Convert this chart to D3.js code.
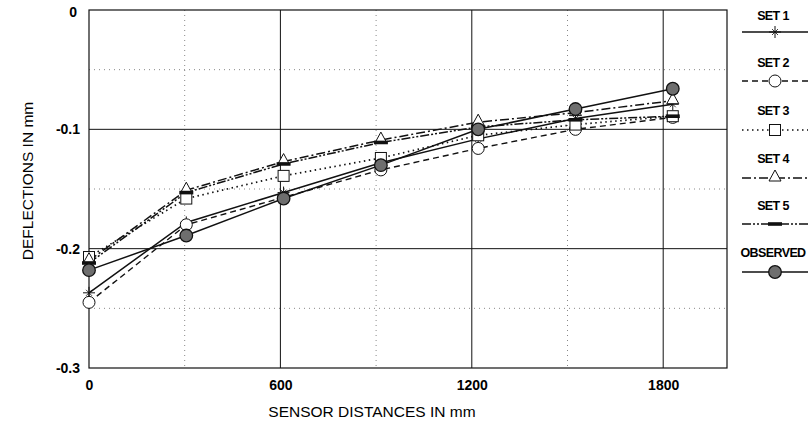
<!DOCTYPE html>
<html>
<head>
<meta charset="utf-8">
<script src="https://cdn.jsdelivr.net/npm/d3@7"></script>
<style>
  body { margin: 0; background: #fff; }
  text { font-family: "Liberation Sans", Arial, sans-serif; fill: #000; }
  .title_text { font-size: 15.5px; }
  .legend_text { font-size: 12.5px; font-weight: bold; letter-spacing: -0.6px; }
</style>
</head>
<body>
<div id="chart"></div>
<script>
var w = 808,
    h = 425,
    margin = {left: 89, right: 81, top: 10, bottom: 57},

    // sensor positions (mm) and deflections (mm)
    distances = [0, 305, 610, 915, 1220, 1525, 1830],
    set1 = [-0.237, -0.178, -0.153, -0.128, -0.108, -0.091, -0.079],
    set2 = [-0.245, -0.180, -0.157, -0.134, -0.116, -0.100, -0.090],
    set3 = [-0.207, -0.158, -0.139, -0.124, -0.105, -0.096, -0.089],
    set4 = [-0.210, -0.151, -0.127, -0.109, -0.094, -0.086, -0.076],
    set5 = [-0.212, -0.153, -0.129, -0.111, -0.098, -0.092, -0.089],
    observed = [-0.218, -0.189, -0.158, -0.130, -0.100, -0.083, -0.066],

    series_names = ['SET 1', 'SET 2', 'SET 3', 'SET 4', 'SET 5', 'OBSERVED'],
    x_ticks = [0, 600, 1200, 1800],
    x_minor = [300, 900, 1500],
    y_ticks = [0, -0.1, -0.2, -0.3],
    y_minor = [-0.05, -0.15, -0.25];

// line + marker look of each series
var styles = [
    {dash: null, marker: 'plus', width: 1.5},
    {dash: '6,4', marker: 'circle', width: 1.4},
    {dash: '1.5,3.5', marker: 'square', width: 1.7},
    {dash: '9,3,2,3', marker: 'triangle', width: 1.5},
    {dash: '9,2,2,2,2,2', marker: 'bar', width: 1.5},
    {dash: null, marker: 'filled', width: 1.5}
];

var all_sets = [set1, set2, set3, set4, set5, observed];

var svg = d3.select('#chart').append('svg')
    .attr('width', w)
    .attr('height', h);

var x = d3.scaleLinear()
    .domain([0, 2000])
    .range([margin.left, w - margin.right]);

var y = d3.scaleLinear()
    .domain([-0.3, 0])
    .range([h - margin.bottom, margin.top]);

// minor dotted grid
svg.append('g').selectAll('line')
    .data(x_minor)
  .enter().append('line')
    .attr('x1', function(d){ return x(d); })
    .attr('x2', function(d){ return x(d); })
    .attr('y1', y(0))
    .attr('y2', y(-0.3))
    .attr('stroke', '#888')
    .attr('stroke-width', 1)
    .attr('stroke-dasharray', '1,4');

svg.append('g').selectAll('line')
    .data(y_minor)
  .enter().append('line')
    .attr('x1', x(0))
    .attr('x2', x(2000))
    .attr('y1', function(d){ return y(d); })
    .attr('y2', function(d){ return y(d); })
    .attr('stroke', '#888')
    .attr('stroke-width', 1)
    .attr('stroke-dasharray', '1,4');

// major solid grid
svg.append('g').selectAll('line')
    .data(x_ticks.slice(1))
  .enter().append('line')
    .attr('x1', function(d){ return x(d); })
    .attr('x2', function(d){ return x(d); })
    .attr('y1', y(0))
    .attr('y2', y(-0.3))
    .attr('stroke', '#111')
    .attr('stroke-width', 1);

svg.append('g').selectAll('line')
    .data(y_ticks.slice(1, 3))
  .enter().append('line')
    .attr('x1', x(0))
    .attr('x2', x(2000))
    .attr('y1', function(d){ return y(d); })
    .attr('y2', function(d){ return y(d); })
    .attr('stroke', '#111')
    .attr('stroke-width', 1);

// plot frame
svg.append('rect')
    .attr('x', x(0))
    .attr('y', y(0))
    .attr('width', x(2000) - x(0))
    .attr('height', y(-0.3) - y(0))
    .attr('fill', 'none')
    .attr('stroke', '#111')
    .attr('stroke-width', 1.2);

// axes labels
var xAxis = svg.append('g')
    .attr('transform', 'translate(0,' + y(-0.3) + ')')
    .call(d3.axisBottom(x).tickValues(x_ticks).tickSize(0).tickPadding(12)
        .tickFormat(d3.format('d')));
xAxis.select('.domain').remove();

var yAxis = svg.append('g')
    .attr('transform', 'translate(' + x(0) + ',0)')
    .call(d3.axisLeft(y).tickValues(y_ticks).tickSize(0).tickPadding(9)
        .tickFormat(function(d){ return d === 0 ? '0' : d3.format('.1f')(d).replace('−', '-'); }));
yAxis.select('.domain').remove();
yAxis.selectAll('.tick').filter(function(d){ return d === 0; })
    .select('text').attr('x', -12).attr('dy', '0.45em');

svg.selectAll('.tick text')
    .attr('fill', '#000')
    .style('font-family', '"Liberation Sans", Arial, sans-serif')
    .style('font-size', '14px')
    .style('font-weight', 'bold');

svg.append('text')
    .attr('class', 'title_text')
    .attr('x', 372)
    .attr('y', 417)
    .attr('text-anchor', 'middle')
    .text('SENSOR DISTANCES IN mm');

svg.append('text')
    .attr('class', 'title_text')
    .attr('transform', 'translate(33,181) rotate(-90)')
    .attr('text-anchor', 'middle')
    .text('DEFLECTIONS IN mm');

function drawMarker(g, kind) {
    if (kind === 'plus') {
        g.append('path')
            .attr('d', 'M-6,0H6M0,-6V6')
            .attr('stroke', '#111').attr('stroke-width', 1).attr('fill', 'none');
        g.append('path')
            .attr('d', 'M-3,-3L3,3M-3,3L3,-3')
            .attr('stroke', '#111')
            .attr('stroke-width', 0.8);
    } else if (kind === 'circle') {
        g.append('circle').attr('r', 6).attr('fill', '#fff')
            .attr('stroke', '#111').attr('stroke-width', 1);
    } else if (kind === 'square') {
        g.append('rect').attr('x', -5.5).attr('y', -5.5).attr('width', 11).attr('height', 11)
            .attr('fill', '#fff').attr('stroke', '#111').attr('stroke-width', 1);
    } else if (kind === 'triangle') {
        g.append('path').attr('d', 'M0,-8L6,3H-6Z')
            .attr('fill', '#fff').attr('stroke', '#111').attr('stroke-width', 1);
    } else if (kind === 'bar') {
        g.append('rect').attr('x', -7).attr('y', -1.8).attr('width', 14).attr('height', 3.6)
            .attr('fill', '#111');
    } else if (kind === 'filled') {
        g.append('circle').attr('r', 6.3).attr('fill', '#6e6e6e')
            .attr('stroke', '#111').attr('stroke-width', 1.3);
    }
}

var line = d3.line()
    .x(function(d){ return x(d[0]); })
    .y(function(d){ return y(d[1]); });

// lines first, markers above
all_sets.forEach(function(vals, i) {
    var pts = distances.map(function(d, j){ return [d, vals[j]]; });
    svg.append('path')
        .datum(pts)
        .attr('d', line)
        .attr('fill', 'none')
        .attr('stroke', '#111')
        .attr('stroke-width', styles[i].width)
        .attr('stroke-dasharray', styles[i].dash);
});

all_sets.forEach(function(vals, i) {
    distances.forEach(function(d, j) {
        var g = svg.append('g')
            .attr('transform', 'translate(' + x(d) + ',' + y(vals[j]) + ')');
        drawMarker(g, styles[i].marker);
    });
});

// legend
var legend_text_y = [20, 67, 115, 163, 210, 257],
    legend_line_y = [32, 81, 130, 178, 224, 272];

series_names.forEach(function(name, i) {
    svg.append('text')
        .attr('class', 'legend_text')
        .attr('x', 773)
        .attr('y', legend_text_y[i])
        .attr('text-anchor', 'middle')
        .text(name);
    svg.append('line')
        .attr('x1', 742)
        .attr('x2', 808)
        .attr('y1', legend_line_y[i])
        .attr('y2', legend_line_y[i])
        .attr('stroke', '#111')
        .attr('stroke-width', styles[i].width)
        .attr('stroke-dasharray', styles[i].dash);
    var g = svg.append('g')
        .attr('transform', 'translate(775,' + legend_line_y[i] + ')');
    drawMarker(g, styles[i].marker);
});
</script>
</body>
</html>
